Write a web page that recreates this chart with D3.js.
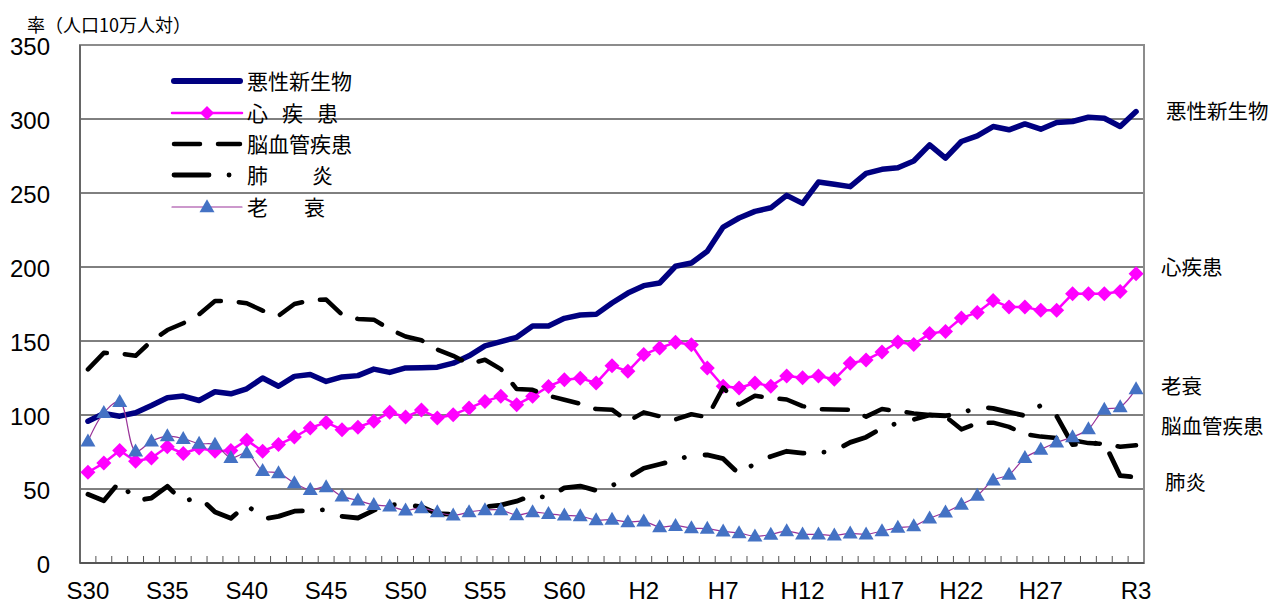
<!DOCTYPE html>
<html><head><meta charset="utf-8">
<script src="https://cdn.jsdelivr.net/npm/d3@7/dist/d3.min.js"></script>
<style>html,body{margin:0;padding:0;background:#fff;}svg{display:block;}</style>
</head><body>
<svg id="chart" width="1272" height="604"></svg>
<script>
// ---- data (rate per 100,000 population), S30(1955) .. R3(2021) ----
const categories = ["S30","S31","S32","S33","S34","S35","S36","S37","S38","S39",
  "S40","S41","S42","S43","S44","S45","S46","S47","S48","S49",
  "S50","S51","S52","S53","S54","S55","S56","S57","S58","S59",
  "S60","S61","S62","S63","H1","H2","H3","H4","H5","H6",
  "H7","H8","H9","H10","H11","H12","H13","H14","H15","H16",
  "H17","H18","H19","H20","H21","H22","H23","H24","H25","H26",
  "H27","H28","H29","H30","R1","R2","R3"];
const cancer = [95.8,101,99.2,101.5,106.4,111.6,112.8,109.8,115.7,114.3,
  117.7,125,119.4,126.1,127.3,122.7,125.7,126.6,131,128.8,
  131.8,132,132.3,135,140,146.7,149.6,152.5,160.2,160.2,
  165.3,167.6,168,175.7,182.4,187.4,189.2,200.5,202.7,210.6,
  227,233.1,237.6,240,248.4,243,257.4,255.9,254.3,263.3,
  266,267.1,271.6,282.5,273.5,284.8,288.6,294.9,292.7,296.7,
  293.1,297.6,298.3,301.2,300.5,294.9,305];
const heart = [61.3,67.5,76,68.7,71,78.6,74,77.7,75.5,76,
  83,75.5,80,85.1,91.2,95,90.1,91.7,95.7,101.8,
  98.6,103.4,98,100.2,104.7,109.2,112.6,107,112.6,119.3,
  123.8,124.9,121.6,133.3,129.5,140.8,145.3,149.1,147.5,131.8,
  119.4,118.2,121.6,119.5,126.4,125.2,126.4,124.1,134.9,137.2,
  142.6,149.3,147.7,155,156.5,165.5,169.3,177.4,172.9,172.9,
  170.7,170.7,181.9,181.9,181.9,183.5,195.4];
const cerebro = [130.8,142,141.6,140,150,157.4,162,168,177,177,
  175.5,170.5,167,175,177.5,178,167.8,164.9,164.4,158,
  153,150.5,144.2,140,134.5,137.3,131,117.5,117,113,
  110.3,107.6,104,103.6,95.7,101.8,99.1,97,100.5,98.5,
  118.5,107,113,111.5,110.5,106,104,103.8,103.5,98.9,
  104,102.7,101.1,100,99,90.3,94.4,94.8,92,87,
  85.4,84.5,83,81,80.5,78.5,79.5];
const pneumonia = [46.4,42.1,55,42,43.9,51.8,41.5,44.6,34.5,30.2,
  39.4,29.7,31.5,35,35.4,36,31.5,30.4,35.6,39.4,
  39.4,38,33.3,32.9,35.7,38,39.1,41.8,45.7,44.1,
  50.8,52,49,52.3,57.5,64,66.7,69.4,72.8,73,
  70.5,60.2,67.3,72,75.5,74.2,74.5,75.7,81.5,85,
  91.2,94.5,97,100,99.5,101,105.5,104.5,102,99.5,
  106.5,99.3,80,80.6,81.3,59,58];
const senility = [82.3,101.5,109,75.5,82.3,85.7,84,80.7,80,71,
  74.3,62.3,60.8,54,49.5,51.4,45,42.3,39.4,38.3,
  35.6,37.2,34.4,32.2,34.4,35.8,35.8,32.4,34.4,33.3,
  32.2,31.7,29,29.3,27.7,28.2,24.3,25.2,23.6,23.2,
  21.4,20.3,18,19.3,21.6,19.4,19.4,18.7,20,19.4,
  21.6,23.9,25,30.2,34.3,39.5,45.5,55.9,59.7,71,
  76.6,81.5,85.1,90.5,103.6,105.4,117.6];
const yTicks = [0,50,100,150,200,250,300,350];
const xTickLabels = ["S30","S35","S40","S45","S50","S55","S60","H2","H7","H12","H17","H22","H27","R3"];
const seriesNames = ["悪性新生物","心疾患","脳血管疾患","肺炎","老衰"];

// ---- layout ----
const svg = d3.select("#chart");
const L = 80, R = 1144, T = 45, B = 563;
const x = d3.scalePoint().domain(categories).range([L, R]).padding(0.5);
const step = x.step();
const y = d3.scaleLinear().domain([0, 350]).range([B, T]);
const NUM = "'Liberation Sans', Arial, sans-serif";
const JP = "'Noto Sans CJK JP', sans-serif";

// gridlines
svg.append("g").selectAll("line").data(yTicks.filter(v => v > 0 && v < 350)).join("line")
  .attr("x1", L).attr("x2", R).attr("y1", d => y(d)).attr("y2", d => y(d))
  .attr("stroke", "#000").attr("stroke-width", 1);
// frame
svg.append("rect").attr("x", L).attr("y", T).attr("width", R - L).attr("height", B - T)
  .attr("fill", "none").attr("stroke", "#8c8c8c").attr("stroke-width", 2);
svg.append("line").attr("x1", L).attr("x2", L).attr("y1", T).attr("y2", B).attr("stroke", "#666").attr("stroke-width", 2);
svg.append("line").attr("x1", L).attr("x2", R).attr("y1", B).attr("y2", B).attr("stroke", "#555").attr("stroke-width", 2);

// x ticks at category boundaries (inside)
const bounds = categories.slice(1).map(c => x(c) - step / 2);
svg.append("g").selectAll("line").data(bounds).join("line")
  .attr("x1", d => d).attr("x2", d => d).attr("y1", B - 7).attr("y2", B)
  .attr("stroke", "#555").attr("stroke-width", 1);

// y labels
svg.append("g").selectAll("text").data(yTicks).join("text")
  .attr("x", 50).attr("y", d => y(d) + 1).attr("dy", "0.36em")
  .attr("text-anchor", "end").attr("font-family", NUM).attr("font-size", 24)
  .attr("fill", "#000").text(d => d);
// x labels
svg.append("g").selectAll("text").data(xTickLabels).join("text")
  .attr("x", d => x(d)).attr("y", 599)
  .attr("text-anchor", "middle").attr("font-family", NUM).attr("font-size", 24)
  .attr("fill", "#000").text(d => d);
// axis title
svg.append("text").attr("x", 27).attr("y", 26).attr("dy", "0.36em")
  .attr("font-family", JP).attr("font-size", 18).attr("fill", "#000").text("率（人口10万人対）");

// ---- series ----
const lineGen = d3.line().x((d, i) => x(categories[i])).y(d => y(d));
const smoothGen = d3.line().x((d, i) => x(categories[i])).y(d => y(d)).curve(d3.curveCatmullRom);

const styles = {
  cancer: {stroke: "#000080", width: 5.5, dash: null},
  heart: {stroke: "#ff00ff", width: 2.5, dash: null},
  cerebro: {stroke: "#000", width: 4.5, dash: "26 18"},
  pneumonia: {stroke: "#000", width: 4.8, dash: "35 20 0.1 21"},
  senility: {stroke: "#993399", width: 1.2, dash: null}
};
function drawLine(data, st, gen) {
  svg.append("path").datum(data).attr("d", gen).attr("fill", "none")
    .attr("stroke", st.stroke).attr("stroke-width", st.width)
    .attr("stroke-linejoin", "round").attr("stroke-linecap", "round")
    .attr("stroke-dasharray", st.dash);
}
function diamond(cx, cy, r) { return `M${cx},${cy - r}L${cx + r},${cy}L${cx},${cy + r}L${cx - r},${cy}Z`; }
function triangle(cx, cy, w, h) { return `M${cx},${cy - h * 0.6}L${cx + w / 2},${cy + h * 0.4}L${cx - w / 2},${cy + h * 0.4}Z`; }

drawLine(cancer, styles.cancer, lineGen);
drawLine(heart, styles.heart, lineGen);
svg.append("g").selectAll("path").data(heart).join("path")
  .attr("d", (d, i) => diamond(x(categories[i]), y(d), 7.5)).attr("fill", "#ff00ff");
drawLine(cerebro, styles.cerebro, lineGen);
drawLine(pneumonia, styles.pneumonia, lineGen);
drawLine(senility, styles.senility, smoothGen);
svg.append("g").selectAll("path").data(senility).join("path")
  .attr("d", (d, i) => triangle(x(categories[i]), y(d), 15, 13)).attr("fill", "#4472c4");

// ---- legend ----
const lg = svg.append("g");
const rows = [81, 113, 144, 175, 207];
function legLine(yy, st, x1, x2) {
  lg.append("line").attr("x1", x1).attr("x2", x2).attr("y1", yy).attr("y2", yy)
    .attr("stroke", st.stroke).attr("stroke-width", st.width).attr("stroke-linecap", "round")
    .attr("stroke-dasharray", st.dash);
}
legLine(rows[0], {stroke: "#000080", width: 6, dash: null}, 174, 240);
legLine(rows[1], styles.heart, 172, 242);
lg.append("path").attr("d", diamond(207, rows[1], 7)).attr("fill", "#ff00ff");
legLine(rows[2], styles.cerebro, 174, 240);
legLine(rows[3], styles.pneumonia, 174, 240);
legLine(rows[4], {stroke: "#993399", width: 1.2, dash: null}, 172, 242);
lg.append("path").attr("d", triangle(207, rows[4], 15, 13)).attr("fill", "#4472c4");

const legendText = [
  {chars: ["悪性新生物"], xs: [247]},
  {chars: ["心", "疾", "患"], xs: [247, 282, 317]},
  {chars: ["脳血管疾患"], xs: [247]},
  {chars: ["肺", "炎"], xs: [247, 312]},
  {chars: ["老", "衰"], xs: [247, 304]}
];
legendText.forEach((t, k) => {
  const tx = lg.append("text").attr("y", rows[k]).attr("dy", "0.36em")
    .attr("font-family", JP).attr("font-size", 21).attr("fill", "#000");
  t.chars.forEach((c, j) => tx.append("tspan").attr("x", t.xs[j]).text(c));
});

// ---- right-side labels ----
const rightLabels = [
  {t: seriesNames[0], x: 1166, y: 112},
  {t: seriesNames[1], x: 1161, y: 268},
  {t: seriesNames[4], x: 1161, y: 387},
  {t: seriesNames[2], x: 1161, y: 427},
  {t: seriesNames[3], x: 1165, y: 483}
];
svg.append("g").selectAll("text").data(rightLabels).join("text")
  .attr("x", d => d.x).attr("y", d => d.y).attr("dy", "0.36em")
  .attr("font-family", JP).attr("font-size", 20.5).attr("fill", "#000").text(d => d.t);
</script>
</body></html>
